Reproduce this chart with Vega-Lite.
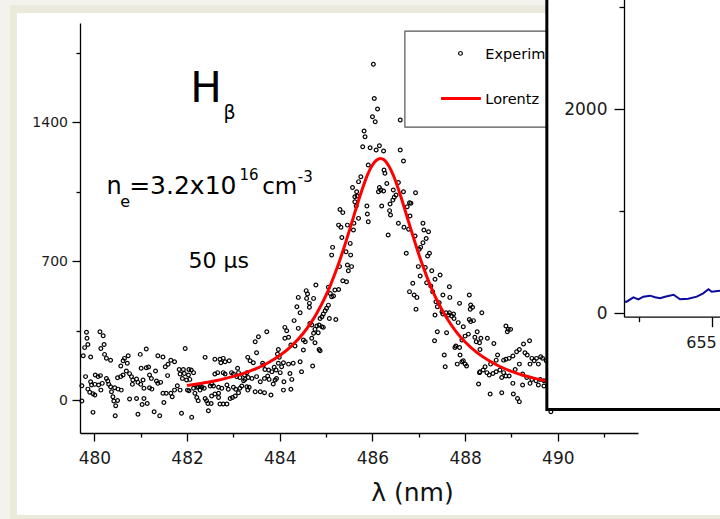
{
  "$schema": "https://vega.github.io/schema/vega-lite/v6.json",
  "width": 558,
  "height": 410,
  "autosize": {"type": "none"},
  "padding": {"left": 80, "top": 23, "right": 82, "bottom": 86},
  "background": "#f4f2ec",
  "config": {"view": {"stroke": null}, "font": "DejaVu Sans", "axis": {"grid": false, "labelFont": "DejaVu Sans", "titleFont": "DejaVu Sans"}},
  "datasets": {
    "exp": [
      {"wl":479.83,"I":341},{"wl":480.12,"I":344},{"wl":479.84,"I":311},{"wl":480.19,"I":324},{"wl":479.79,"I":264},{"wl":479.86,"I":280},{"wl":480.21,"I":280},{"wl":480.14,"I":260},{"wl":479.76,"I":223},{"wl":479.92,"I":217},{"wl":480.22,"I":230},{"wl":480.26,"I":210},{"wl":480.35,"I":200},{"wl":481.12,"I":257},{"wl":480.99,"I":230},{"wl":481.37,"I":223},{"wl":481.48,"I":217},{"wl":480.73,"I":223},{"wl":480.65,"I":210},{"wl":480.62,"I":198},{"wl":480.57,"I":171},{"wl":480.71,"I":185},{"wl":481.01,"I":160},{"wl":481.12,"I":163},{"wl":481.17,"I":166},{"wl":481.32,"I":146},{"wl":481.53,"I":168},{"wl":481.59,"I":180},{"wl":481.65,"I":200},{"wl":481.73,"I":193},{"wl":479.81,"I":118},{"wl":480.02,"I":126},{"wl":480.08,"I":118},{"wl":480.13,"I":123},{"wl":480.26,"I":109},{"wl":480.29,"I":96},{"wl":480.50,"I":112},{"wl":480.57,"I":118},{"wl":480.62,"I":126},{"wl":480.69,"I":146},{"wl":480.76,"I":133},{"wl":480.80,"I":118},{"wl":480.83,"I":101},{"wl":480.91,"I":106},{"wl":480.94,"I":89},{"wl":481.05,"I":101},{"wl":481.19,"I":126},{"wl":481.23,"I":109},{"wl":481.34,"I":96},{"wl":481.37,"I":84},{"wl":481.58,"I":123},{"wl":479.73,"I":72},{"wl":479.92,"I":92},{"wl":479.94,"I":76},{"wl":480.01,"I":79},{"wl":480.09,"I":76},{"wl":480.17,"I":84},{"wl":480.31,"I":79},{"wl":480.35,"I":67},{"wl":480.44,"I":62},{"wl":480.51,"I":55},{"wl":480.58,"I":50},{"wl":480.82,"I":79},{"wl":481.00,"I":79},{"wl":481.07,"I":59},{"wl":481.19,"I":62},{"wl":481.24,"I":55},{"wl":481.43,"I":89},{"wl":481.48,"I":34},{"wl":481.55,"I":34},{"wl":481.65,"I":34},{"wl":481.73,"I":50},{"wl":481.79,"I":72},{"wl":479.86,"I":55},{"wl":479.90,"I":39},{"wl":479.97,"I":32},{"wl":480.01,"I":25},{"wl":480.14,"I":50},{"wl":480.37,"I":42},{"wl":480.40,"I":17},{"wl":480.42,"I":-5},{"wl":480.46,"I":-29},{"wl":480.50,"I":-2},{"wl":480.76,"I":5},{"wl":480.91,"I":8},{"wl":481.07,"I":8},{"wl":481.03,"I":-22},{"wl":481.14,"I":-17},{"wl":481.50,"I":-12},{"wl":479.73,"I":-5},{"wl":481.68,"I":17},{"wl":479.97,"I":-62},{"wl":480.94,"I":-72},{"wl":481.29,"I":-59},{"wl":481.41,"I":-79},{"wl":480.45,"I":-79},
      {"wl":481.96,"I":260},{"wl":481.83,"I":154},{"wl":481.92,"I":154},{"wl":482.04,"I":154},{"wl":482.09,"I":151},{"wl":481.85,"I":131},{"wl":481.94,"I":134},{"wl":482.03,"I":126},{"wl":482.14,"I":138},{"wl":481.90,"I":109},{"wl":481.99,"I":101},{"wl":482.06,"I":104},{"wl":481.85,"I":50},{"wl":482.01,"I":50},{"wl":482.04,"I":47},{"wl":482.14,"I":59},{"wl":482.21,"I":64},{"wl":482.24,"I":67},{"wl":482.28,"I":71},{"wl":482.32,"I":64},{"wl":482.37,"I":59},{"wl":482.39,"I":215},{"wl":482.60,"I":205},{"wl":482.71,"I":205},{"wl":482.78,"I":210},{"wl":482.82,"I":193},{"wl":482.91,"I":198},{"wl":482.73,"I":188},{"wl":482.60,"I":131},{"wl":482.66,"I":138},{"wl":482.78,"I":138},{"wl":482.82,"I":131},{"wl":482.96,"I":138},{"wl":483.00,"I":131},{"wl":483.09,"I":160},{"wl":483.11,"I":138},{"wl":483.07,"I":118},{"wl":483.14,"I":114},{"wl":483.24,"I":126},{"wl":483.29,"I":138},{"wl":483.31,"I":215},{"wl":483.36,"I":198},{"wl":483.43,"I":188},{"wl":483.47,"I":294},{"wl":483.54,"I":319},{"wl":483.72,"I":344},{"wl":483.50,"I":238},{"wl":483.63,"I":185},{"wl":483.65,"I":176},{"wl":483.68,"I":154},{"wl":483.76,"I":151},{"wl":483.83,"I":143},{"wl":483.88,"I":165},{"wl":483.25,"I":104},{"wl":483.22,"I":97},{"wl":483.32,"I":114},{"wl":483.40,"I":109},{"wl":483.50,"I":118},{"wl":483.58,"I":92},{"wl":483.67,"I":109},{"wl":483.74,"I":121},{"wl":483.77,"I":104},{"wl":483.86,"I":81},{"wl":482.50,"I":71},{"wl":482.57,"I":71},{"wl":482.68,"I":64},{"wl":482.75,"I":59},{"wl":482.86,"I":76},{"wl":482.89,"I":54},{"wl":483.00,"I":64},{"wl":483.05,"I":54},{"wl":483.14,"I":59},{"wl":483.18,"I":71},{"wl":483.29,"I":67},{"wl":483.31,"I":50},{"wl":483.34,"I":64},{"wl":483.47,"I":42},{"wl":483.58,"I":42},{"wl":483.67,"I":37},{"wl":483.81,"I":25},{"wl":482.53,"I":81},{"wl":482.21,"I":13},{"wl":482.24,"I":-3},{"wl":482.39,"I":8},{"wl":482.42,"I":-3},{"wl":482.45,"I":-17},{"wl":482.52,"I":-17},{"wl":482.53,"I":20},{"wl":482.68,"I":13},{"wl":482.71,"I":-20},{"wl":482.78,"I":-20},{"wl":482.86,"I":-20},{"wl":482.93,"I":8},{"wl":482.98,"I":13},{"wl":483.04,"I":20},{"wl":483.11,"I":37},{"wl":481.88,"I":-67},{"wl":482.10,"I":-87},{"wl":482.46,"I":-54},{"wl":482.60,"I":30},{"wl":482.68,"I":34},{"wl":482.28,"I":50},{"wl":482.17,"I":34},
      {"wl":485.30,"I":960},{"wl":485.36,"I":944},{"wl":485.27,"I":881},{"wl":485.32,"I":870},{"wl":485.34,"I":819},{"wl":485.14,"I":769},{"wl":485.12,"I":730},{"wl":485.29,"I":672},{"wl":485.36,"I":601},{"wl":484.78,"I":579},{"wl":484.57,"I":551},{"wl":484.60,"I":534},{"wl":484.40,"I":517},{"wl":484.58,"I":512},{"wl":484.73,"I":512},{"wl":484.37,"I":470},{"wl":484.64,"I":487},{"wl":484.64,"I":467},{"wl":484.44,"I":440},{"wl":485.05,"I":568},{"wl":485.09,"I":537},{"wl":485.19,"I":554},{"wl":485.27,"I":557},{"wl":485.12,"I":520},{"wl":485.16,"I":524},{"wl":485.05,"I":478},{"wl":485.01,"I":462},{"wl":484.98,"I":450},{"wl":484.94,"I":433},{"wl":484.91,"I":420},{"wl":484.87,"I":411},{"wl":485.07,"I":411},{"wl":485.21,"I":406},{"wl":484.65,"I":386},{"wl":484.69,"I":378},{"wl":484.31,"I":400},{"wl":484.11,"I":366},{"wl":484.15,"I":349},{"wl":484.19,"I":316},{"wl":484.11,"I":311},{"wl":484.40,"I":361},{"wl":484.51,"I":302},{"wl":484.55,"I":294},{"wl":484.80,"I":373},{"wl":484.85,"I":378},{"wl":484.91,"I":369},{"wl":484.94,"I":366},{"wl":484.76,"I":356},{"wl":484.73,"I":336},{"wl":484.83,"I":339},{"wl":484.69,"I":311},{"wl":484.76,"I":289},{"wl":484.85,"I":255},{"wl":484.87,"I":248},{"wl":484.51,"I":252},{"wl":484.33,"I":272},{"wl":484.24,"I":277},{"wl":483.97,"I":255},{"wl":483.95,"I":232},{"wl":483.99,"I":215},{"wl":484.08,"I":188},{"wl":484.19,"I":181},{"wl":484.29,"I":185},{"wl":484.44,"I":193},{"wl":484.71,"I":171},{"wl":484.47,"I":143},{"wl":484.22,"I":134},{"wl":484.26,"I":104},{"wl":484.09,"I":92},{"wl":484.08,"I":50},{"wl":484.24,"I":54},{"wl":484.04,"I":168},{"wl":484.01,"I":138},{"wl":483.93,"I":109},{"wl":483.90,"I":101},{"wl":483.92,"I":151},{"wl":483.97,"I":185},
      {"wl":486.02,"I":1691},{"wl":486.04,"I":1519},{"wl":486.11,"I":1466},{"wl":486.00,"I":1427},{"wl":486.06,"I":1402},{"wl":485.82,"I":1355},{"wl":485.84,"I":1326},{"wl":485.79,"I":1276},{"wl":485.95,"I":1271},{"wl":486.08,"I":1259},{"wl":486.15,"I":1281},{"wl":486.24,"I":1254},{"wl":486.60,"I":1410},{"wl":486.60,"I":1259},{"wl":486.67,"I":1204},{"wl":485.91,"I":1184},{"wl":485.75,"I":1125},{"wl":485.70,"I":1100},{"wl":485.57,"I":1070},{"wl":485.66,"I":1049},{"wl":485.62,"I":1024},{"wl":486.15,"I":1070},{"wl":486.18,"I":1058},{"wl":486.24,"I":1053},{"wl":486.31,"I":1091},{"wl":486.25,"I":1159},{"wl":486.27,"I":1142},{"wl":486.45,"I":1058},{"wl":486.56,"I":1096},{"wl":486.67,"I":1049},{"wl":486.13,"I":1049},
      {"wl":485.62,"I":999},{"wl":485.67,"I":1028},{"wl":485.65,"I":977},{"wl":485.88,"I":977},{"wl":485.89,"I":937},{"wl":485.91,"I":898},{"wl":485.70,"I":915},{"wl":485.60,"I":890},{"wl":485.46,"I":881},{"wl":485.59,"I":856},{"wl":485.52,"I":789},{"wl":485.43,"I":747},{"wl":485.53,"I":730},{"wl":485.46,"I":680},{"wl":485.55,"I":672},{"wl":485.48,"I":651},{"wl":485.44,"I":596},{"wl":486.20,"I":977},{"wl":486.38,"I":987},{"wl":486.44,"I":1007},{"wl":486.47,"I":1021},{"wl":486.51,"I":1033},{"wl":486.37,"I":954},{"wl":486.39,"I":932},{"wl":486.56,"I":890},{"wl":486.34,"I":831},{"wl":486.68,"I":870},{"wl":486.78,"I":860},{"wl":486.73,"I":739},{"wl":486.80,"I":546},
      {"wl":486.93,"I":1044},{"wl":486.80,"I":994},{"wl":486.83,"I":991},{"wl":486.75,"I":974},{"wl":486.81,"I":927},{"wl":487.09,"I":890},{"wl":487.11,"I":856},{"wl":487.21,"I":848},{"wl":487.16,"I":814},{"wl":486.92,"I":826},{"wl":487.09,"I":792},{"wl":487.04,"I":769},{"wl":487.23,"I":739},{"wl":487.19,"I":725},{"wl":487.01,"I":759},{"wl":486.99,"I":672},{"wl":487.14,"I":668},{"wl":487.28,"I":651},{"wl":487.46,"I":630},{"wl":487.03,"I":625},{"wl":487.35,"I":608},{"wl":487.17,"I":591},{"wl":486.87,"I":588},{"wl":487.26,"I":574},{"wl":486.90,"I":529},{"wl":486.96,"I":517},{"wl":487.66,"I":571},{"wl":487.52,"I":529},{"wl":487.67,"I":517},{"wl":488.09,"I":529},{"wl":487.30,"I":546},
      {"wl":486.94,"I":457},{"wl":487.37,"I":495},{"wl":487.44,"I":490},{"wl":487.40,"I":470},{"wl":487.50,"I":445},{"wl":487.59,"I":440},{"wl":487.66,"I":440},{"wl":487.52,"I":433},{"wl":487.64,"I":428},{"wl":487.71,"I":423},{"wl":487.75,"I":433},{"wl":487.76,"I":411},{"wl":487.35,"I":428},{"wl":487.85,"I":390},{"wl":487.96,"I":369},{"wl":487.88,"I":487},{"wl":488.12,"I":479},{"wl":488.11,"I":457},{"wl":488.16,"I":467},{"wl":488.09,"I":406},{"wl":488.12,"I":395},{"wl":488.18,"I":400},{"wl":487.60,"I":339},{"wl":487.40,"I":344},{"wl":487.34,"I":299},{"wl":488.21,"I":316},{"wl":488.26,"I":344},{"wl":488.24,"I":294},{"wl":488.31,"I":289},{"wl":488.07,"I":332},{"wl":488.00,"I":322},{"wl":487.93,"I":302},{"wl":487.80,"I":272},{"wl":487.88,"I":265},{"wl":487.78,"I":265},{"wl":487.55,"I":227},{"wl":487.89,"I":227},{"wl":487.96,"I":198},{"wl":488.00,"I":181},{"wl":488.03,"I":171},{"wl":487.93,"I":193},{"wl":487.83,"I":181},{"wl":487.57,"I":168},{"wl":488.31,"I":138},{"wl":488.29,"I":81},
      {"wl":488.36,"I":440},{"wl":488.34,"I":311},{"wl":488.48,"I":311},{"wl":488.62,"I":285},{"wl":488.32,"I":255},{"wl":488.88,"I":373},{"wl":488.93,"I":356},{"wl":488.98,"I":356},{"wl":488.91,"I":344},{"wl":489.39,"I":299},{"wl":489.26,"I":282},{"wl":489.17,"I":255},{"wl":489.11,"I":243},{"wl":489.29,"I":238},{"wl":489.34,"I":227},{"wl":489.03,"I":222},{"wl":488.95,"I":210},{"wl":488.88,"I":205},{"wl":488.83,"I":201},{"wl":488.70,"I":227},{"wl":488.67,"I":201},{"wl":489.44,"I":210},{"wl":489.49,"I":198},{"wl":489.54,"I":210},{"wl":489.63,"I":218},{"wl":489.67,"I":210},{"wl":489.40,"I":181},{"wl":489.58,"I":181},{"wl":489.75,"I":198},{"wl":488.55,"I":181},{"wl":488.43,"I":168},{"wl":488.39,"I":151},{"wl":488.32,"I":143},{"wl":488.47,"I":138},{"wl":488.52,"I":126},{"wl":488.60,"I":134},{"wl":488.67,"I":143},{"wl":488.75,"I":151},{"wl":488.83,"I":138},{"wl":488.79,"I":114},{"wl":488.88,"I":121},{"wl":488.95,"I":121},{"wl":489.08,"I":154},{"wl":489.17,"I":181},{"wl":489.24,"I":131},{"wl":489.33,"I":114},{"wl":489.44,"I":104},{"wl":489.53,"I":97},{"wl":489.62,"I":104},{"wl":489.70,"I":97},{"wl":489.58,"I":76},{"wl":489.70,"I":71},{"wl":489.03,"I":84},{"wl":489.24,"I":76},{"wl":489.40,"I":84},{"wl":488.54,"I":30},{"wl":488.79,"I":37},{"wl":489.04,"I":30},{"wl":489.13,"I":8},{"wl":489.17,"I":-8},{"wl":489.85,"I":-59}
    ],
    "fit": [
      {"wl":482.0,"I":73},{"wl":482.25,"I":82},{"wl":482.5,"I":92},{"wl":482.75,"I":104},{"wl":483.0,"I":119},{"wl":483.25,"I":137},{"wl":483.5,"I":159},{"wl":483.75,"I":188},{"wl":484.0,"I":224},{"wl":484.25,"I":272},{"wl":484.5,"I":334},{"wl":484.65,"I":381},{"wl":484.8,"I":437},{"wl":485.0,"I":528},{"wl":485.1,"I":582},{"wl":485.2,"I":642},{"wl":485.3,"I":707},{"wl":485.4,"I":777},{"wl":485.5,"I":852},{"wl":485.6,"I":929},{"wl":485.7,"I":1005},{"wl":485.8,"I":1076},{"wl":485.9,"I":1138},{"wl":486.0,"I":1184},{"wl":486.1,"I":1210},{"wl":486.17,"I":1217},{"wl":486.25,"I":1210},{"wl":486.35,"I":1180},{"wl":486.45,"I":1132},{"wl":486.6,"I":1034},{"wl":486.7,"I":959},{"wl":486.8,"I":882},{"wl":486.9,"I":807},{"wl":487.0,"I":734},{"wl":487.1,"I":667},{"wl":487.2,"I":605},{"wl":487.3,"I":549},{"wl":487.4,"I":499},{"wl":487.6,"I":414},{"wl":487.8,"I":346},{"wl":488.0,"I":292},{"wl":488.25,"I":240},{"wl":488.5,"I":200},{"wl":488.75,"I":169},{"wl":489.0,"I":144},{"wl":489.25,"I":125},{"wl":489.5,"I":109},{"wl":490.0,"I":85}
    ],
    "inset": [
      {"wl":652.0,"I":114},{"wl":652.09,"I":114},{"wl":652.32,"I":157},{"wl":652.49,"I":137},{"wl":652.66,"I":163},{"wl":652.89,"I":173},{"wl":653.06,"I":157},{"wl":653.23,"I":147},{"wl":653.40,"I":163},{"wl":653.69,"I":182},{"wl":653.91,"I":137},{"wl":654.19,"I":143},{"wl":654.48,"I":163},{"wl":654.70,"I":196},{"wl":654.88,"I":235},{"wl":654.99,"I":211},{"wl":655.27,"I":221},{"wl":655.4,"I":240}
    ]
  },
  "resolve": {"scale": {"x": "independent", "y": "independent"}, "axis": {"x": "independent", "y": "independent"}},
  "layer": [
    {
      "layer": [
        {
          "data": {"values": [{}]},
          "mark": {"type": "rect", "fill": "#ebe8dc"},
          "encoding": {
            "x": {"datum": 478.18, "type": "quantitative", "scale": {"domain": [479.69, 491.73], "nice": false, "zero": false}},
            "x2": {"datum": 495},
            "y": {"datum": 1989, "type": "quantitative", "scale": {"domain": [-166, 1899], "nice": false, "zero": false}},
            "y2": {"datum": -700}
          }
        },
        {
          "data": {"values": [{}]},
          "mark": {"type": "rect", "fill": "#ffffff"},
          "encoding": {
            "x": {"datum": 478.33, "type": "quantitative"},
            "x2": {"datum": 495},
            "y": {"datum": 1949, "type": "quantitative"},
            "y2": {"datum": -579}
          }
        },
        {
          "data": {"name": "exp"},
          "mark": {"type": "point", "shape": "circle", "filled": false, "stroke": "#000000", "strokeWidth": 1.2, "size": 14, "opacity": 1},
          "encoding": {
            "x": {"field": "wl", "type": "quantitative", "scale": {"domain": [479.69, 491.73], "nice": false, "zero": false},
              "axis": {"values": [480,481,482,483,484,485,486,487,488,489,490,491], "format": "d",
                "labelExpr": "datum.value % 2 === 0 ? datum.label : ''",
                "tickSize": {"condition": {"test": "datum.value % 2 === 0", "value": 8}, "value": 4},
                "domainColor": "#000000", "domainWidth": 1.3, "tickColor": "#000000", "tickWidth": 1.3,
                "labelFontSize": 17, "labelColor": "#1a1a1a", "labelPadding": 9, "labelFlush": false, "labelOverlap": false,
                "title": "λ (nm)", "titleFontSize": 25, "titleFontWeight": "normal", "titleColor": "#111111",
                "titleX": 332, "titleY": 67, "titleBaseline": "alphabetic", "titleAlign": "center", "zindex": 1}},
            "y": {"field": "I", "type": "quantitative", "scale": {"domain": [-166, 1899], "nice": false, "zero": false},
              "axis": {"values": [0,350,700,1050,1400,1750], "format": "d",
                "labelExpr": "datum.value % 700 === 0 ? datum.label : ''",
                "tickSize": {"condition": {"test": "datum.value % 700 === 0", "value": 8}, "value": 4},
                "domainColor": "#000000", "domainWidth": 1.3, "tickColor": "#000000", "tickWidth": 1.3,
                "labelFontSize": 14, "labelColor": "#1a1a1a", "labelPadding": 4.5, "labelFlush": false, "labelOverlap": false,
                "title": null, "zindex": 1}}
          }
        },
        {
          "data": {"name": "fit"},
          "mark": {"type": "line", "color": "#ff0000", "strokeWidth": 3, "interpolate": "monotone"},
          "encoding": {
            "x": {"field": "wl", "type": "quantitative"},
            "y": {"field": "I", "type": "quantitative"}
          }
        },
        {
          "data": {"values": [{}]},
          "mark": {"type": "text", "text": "H", "fontSize": 42, "align": "left", "baseline": "alphabetic", "color": "#000000", "font": "DejaVu Sans"},
          "encoding": {"x": {"datum": 482.069, "type": "quantitative"}, "y": {"datum": 1502, "type": "quantitative"}}
        },
        {
          "data": {"values": [{}]},
          "mark": {"type": "text", "text": "β", "fontSize": 19, "align": "left", "baseline": "alphabetic", "color": "#000000", "font": "DejaVu Sans"},
          "encoding": {"x": {"datum": 482.788, "type": "quantitative"}, "y": {"datum": 1415, "type": "quantitative"}}
        },
        {
          "data": {"values": [{}]},
          "mark": {"type": "text", "text": "n", "fontSize": 24, "align": "left", "baseline": "alphabetic", "color": "#000000", "font": "DejaVu Sans"},
          "encoding": {"x": {"datum": 480.26, "type": "quantitative"}, "y": {"datum": 1037, "type": "quantitative"}}
        },
        {
          "data": {"values": [{}]},
          "mark": {"type": "text", "text": "e", "fontSize": 16, "align": "left", "baseline": "alphabetic", "color": "#000000", "font": "DejaVu Sans"},
          "encoding": {"x": {"datum": 480.56, "type": "quantitative"}, "y": {"datum": 973, "type": "quantitative"}}
        },
        {
          "data": {"values": [{}]},
          "mark": {"type": "text", "text": "=3.2x10", "fontSize": 25, "align": "left", "baseline": "alphabetic", "color": "#000000", "font": "DejaVu Sans"},
          "encoding": {"x": {"datum": 480.75, "type": "quantitative"}, "y": {"datum": 1037, "type": "quantitative"}}
        },
        {
          "data": {"values": [{}]},
          "mark": {"type": "text", "text": "16", "fontSize": 15, "align": "left", "baseline": "alphabetic", "color": "#000000", "font": "DejaVu Sans"},
          "encoding": {"x": {"datum": 483.13, "type": "quantitative"}, "y": {"datum": 1108, "type": "quantitative"}}
        },
        {
          "data": {"values": [{}]},
          "mark": {"type": "text", "text": "cm", "fontSize": 23, "align": "left", "baseline": "alphabetic", "color": "#000000", "font": "DejaVu Sans"},
          "encoding": {"x": {"datum": 483.62, "type": "quantitative"}, "y": {"datum": 1037, "type": "quantitative"}}
        },
        {
          "data": {"values": [{}]},
          "mark": {"type": "text", "text": "-3", "fontSize": 15, "align": "left", "baseline": "alphabetic", "color": "#000000", "font": "DejaVu Sans"},
          "encoding": {"x": {"datum": 484.39, "type": "quantitative"}, "y": {"datum": 1098, "type": "quantitative"}}
        },
        {
          "data": {"values": [{}]},
          "mark": {"type": "text", "text": "50 μs", "fontSize": 22, "align": "left", "baseline": "alphabetic", "color": "#000000", "font": "DejaVu Sans"},
          "encoding": {"x": {"datum": 482.03, "type": "quantitative"}, "y": {"datum": 665, "type": "quantitative"}}
        },
        {
          "data": {"values": [{}]},
          "mark": {"type": "rect", "fill": "#ffffff", "stroke": "#555555", "strokeWidth": 1.2},
          "encoding": {
            "x": {"datum": 486.70, "type": "quantitative"},
            "x2": {"datum": 490.3},
            "y": {"datum": 1858, "type": "quantitative"},
            "y2": {"datum": 1375}
          }
        },
        {
          "data": {"values": [{}]},
          "mark": {"type": "point", "shape": "circle", "filled": false, "stroke": "#000000", "strokeWidth": 1.2, "size": 14, "opacity": 1},
          "encoding": {"x": {"datum": 487.90, "type": "quantitative"}, "y": {"datum": 1746, "type": "quantitative"}}
        },
        {
          "data": {"values": [{}]},
          "mark": {"type": "rule", "color": "#ff0000", "strokeWidth": 3},
          "encoding": {"x": {"datum": 487.48, "type": "quantitative"}, "x2": {"datum": 488.34}, "y": {"datum": 1519, "type": "quantitative"}}
        },
        {
          "data": {"values": [{}]},
          "mark": {"type": "text", "text": "Experimental", "fontSize": 14.5, "limit": 61, "ellipsis": "\u200b", "align": "left", "baseline": "alphabetic", "color": "#000000", "font": "DejaVu Sans"},
          "encoding": {"x": {"datum": 488.436, "type": "quantitative"}, "y": {"datum": 1720, "type": "quantitative"}}
        },
        {
          "data": {"values": [{}]},
          "mark": {"type": "text", "text": "Lorentzian fit", "fontSize": 14.5, "limit": 56, "ellipsis": "\u200b", "align": "left", "baseline": "alphabetic", "color": "#000000", "font": "DejaVu Sans"},
          "encoding": {"x": {"datum": 488.436, "type": "quantitative"}, "y": {"datum": 1493, "type": "quantitative"}}
        },
        {
          "data": {"values": [{}]},
          "mark": {"type": "rect", "fill": "#ffffff", "stroke": "#000000", "strokeWidth": 3},
          "encoding": {
            "x": {"datum": 489.763, "type": "quantitative"},
            "x2": {"datum": 495},
            "y": {"datum": -47.8, "type": "quantitative"},
            "y2": {"datum": 2200}
          }
        }
      ]
    },
    {
      "data": {"name": "inset"},
      "mark": {"type": "line", "color": "#0a0a9c", "strokeWidth": 2},
      "encoding": {
        "x": {"field": "wl", "type": "quantitative", "scale": {"domain": [652, 662], "range": [544, 837.3], "nice": false, "zero": false},
          "axis": {"orient": "bottom", "offset": -116.3, "values": [652.5, 655], "format": "d",
            "labelExpr": "datum.value % 5 === 0 ? datum.label : ''",
            "tickSize": {"condition": {"test": "datum.value % 5 === 0", "value": 10}, "value": 5},
            "domainColor": "#000000", "domainWidth": 1.3, "tickColor": "#000000", "tickWidth": 1.3,
            "labelFontSize": 16, "labelColor": "#1a1a1a", "labelPadding": 8, "labelOffset": -11, "labelFlush": false, "labelOverlap": false,
            "title": null, "zindex": 1}},
        "y": {"field": "I", "type": "quantitative", "scale": {"domain": [-33, 3500], "range": [293.7, -67.2], "nice": false, "zero": false},
          "axis": {"orient": "left", "offset": -544, "values": [0, 1000, 2000, 3000], "format": "d",
            "labelExpr": "datum.value % 2000 === 0 ? datum.label : ''",
            "tickSize": {"condition": {"test": "datum.value % 2000 === 0", "value": 10}, "value": 5},
            "domainColor": "#000000", "domainWidth": 1.3, "tickColor": "#000000", "tickWidth": 1.3,
            "labelFontSize": 17, "labelColor": "#1a1a1a", "labelPadding": 7, "labelFlush": false, "labelOverlap": false,
            "title": null, "zindex": 1}}
      }
    }
  ]
}
